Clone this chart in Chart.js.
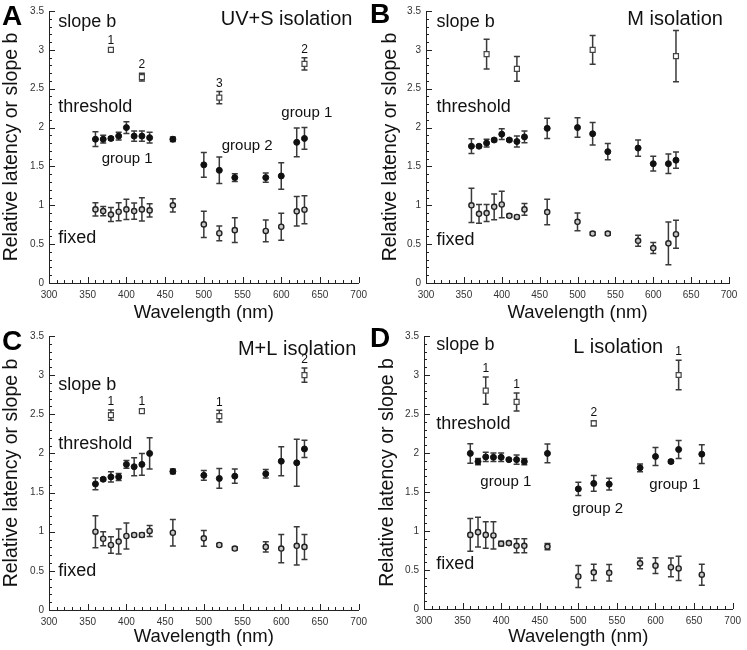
<!DOCTYPE html>
<html>
<head>
<meta charset="utf-8">
<script src="https://cdn.jsdelivr.net/npm/chart.js@4"></script>
<style>
  body { margin: 0; background: #fff; }
  #wrap { position: relative; width: 747px; height: 650px; }
  canvas { position: absolute; }
</style>
</head>
<body>
<div id="wrap">
  <canvas id="chartA" width="373" height="325" style="left:0;top:0"></canvas>
  <canvas id="chartB" width="379" height="325" style="left:368px;top:0"></canvas>
  <canvas id="chartC" width="373" height="325" style="left:0;top:325px"></canvas>
  <canvas id="chartD" width="379" height="325" style="left:368px;top:325px"></canvas>
</div>
<script>
// wavelengths (nm)
const wavelengths = [360, 370, 380, 390, 400, 410, 420, 430, 460, 500, 520, 540, 580, 600, 620, 630];
const wavelengthsD = [360, 370, 380, 390, 400, 410, 420, 430, 460, 500, 520, 540, 580, 600, 620, 630, 660];
const slopeWavelengths = [380, 420, 520, 630];

// A: UV+S isolation
const aSlope = [3.0, 2.65, 2.385, 2.82];
const aSlopeErr = [0.02, 0.05, 0.08, 0.08];
const aSlopeNotes = ["1", "2", "3", "2"];
const aThreshold = [1.85, 1.85, 1.86, 1.89, 2.0, 1.89, 1.89, 1.87, 1.85, 1.52, 1.45, 1.356, 1.356, 1.377, 1.81, 1.86];
const aThresholdErr = [0.095, 0.05, 0.02, 0.05, 0.075, 0.065, 0.065, 0.07, 0.03, 0.16, 0.17, 0.05, 0.06, 0.17, 0.185, 0.14];
const aFixed = [0.947, 0.925, 0.88, 0.917, 0.947, 0.925, 0.947, 0.934, 1.0, 0.754, 0.64, 0.68, 0.67, 0.724, 0.922, 0.943];
const aFixedErr = [0.085, 0.06, 0.09, 0.115, 0.13, 0.105, 0.15, 0.085, 0.085, 0.17, 0.095, 0.16, 0.14, 0.175, 0.19, 0.18];

// B: M isolation
const bSlope = [2.945, 2.755, 3.0, 2.92];
const bSlopeErr = [0.19, 0.16, 0.185, 0.33];
const bSlopeNotes = [];
const bThreshold = [1.76, 1.76, 1.80, 1.84, 1.915, 1.84, 1.82, 1.88, 1.99, 2.0, 1.92, 1.69, 1.736, 1.535, 1.535, 1.58];
const bThresholdErr = [0.095, 0.015, 0.05, 0.02, 0.07, 0.015, 0.07, 0.075, 0.13, 0.125, 0.145, 0.105, 0.105, 0.095, 0.125, 0.105];
const bFixed = [1.0, 0.89, 0.90, 0.98, 1.01, 0.865, 0.85, 0.947, 0.913, 0.787, 0.636, 0.636, 0.543, 0.45, 0.51, 0.628];
const bFixedErr = [0.22, 0.12, 0.11, 0.165, 0.17, 0.02, 0.02, 0.075, 0.165, 0.115, 0.02, 0.02, 0.07, 0.07, 0.275, 0.18];

// C: M+L isolation
const cSlope = [2.49, 2.54, 2.477, 3.0];
const cSlopeErr = [0.065, 0.02, 0.075, 0.09];
const cSlopeNotes = ["1", "1", "1", "2"];
const cThreshold = [1.61, 1.67, 1.70, 1.70, 1.86, 1.83, 1.86, 2.0, 1.77, 1.72, 1.68, 1.71, 1.74, 1.90, 1.88, 2.057];
const cThresholdErr = [0.075, 0.02, 0.065, 0.045, 0.05, 0.115, 0.14, 0.2, 0.03, 0.063, 0.126, 0.09, 0.055, 0.185, 0.30, 0.11];
const cFixed = [1.0, 0.91, 0.83, 0.874, 0.945, 0.958, 0.958, 1.01, 0.987, 0.915, 0.83, 0.785, 0.806, 0.785, 0.82, 0.806];
const cFixedErr = [0.205, 0.09, 0.105, 0.16, 0.165, 0.02, 0.025, 0.07, 0.17, 0.1, 0.02, 0.02, 0.065, 0.18, 0.245, 0.16];

// D: L isolation
const dSlope = [2.80, 2.655, 2.38, 3.0];
const dSlopeErr = [0.175, 0.115, 0.03, 0.19];
const dSlopeNotes = ["1", "1", "2", "1"];
const dThreshold = [1.995, 1.89, 1.95, 1.945, 1.945, 1.915, 1.915, 1.89, 1.995, 1.54, 1.61, 1.60, 1.81, 1.955, 1.89, 2.045, 1.985];
const dThresholdErr = [0.125, 0.04, 0.06, 0.055, 0.055, 0.015, 0.06, 0.04, 0.12, 0.085, 0.1, 0.075, 0.05, 0.115, 0.02, 0.115, 0.12];
const dFixed = [0.95, 0.985, 0.95, 0.943, 0.837, 0.845, 0.81, 0.81, 0.80, 0.417, 0.47, 0.464, 0.585, 0.556, 0.535, 0.52, 0.44];
const dFixedErr = [0.21, 0.19, 0.17, 0.175, 0.03, 0.02, 0.09, 0.09, 0.04, 0.14, 0.105, 0.105, 0.07, 0.1, 0.12, 0.155, 0.135];

const FONT = "'Liberation Sans', Arial, sans-serif";

const panels = [
  {
    canvas: "chartA", letter: "A", letterPos: [2, 25],
    area: { left: 49, right: 360, top: 6, bottom: 283 }, yTitlePad: 0, xTitlePad: 1,
    wl: wavelengths, slope: aSlope, slopeErr: aSlopeErr, notes: aSlopeNotes,
    thr: aThreshold, thrErr: aThresholdErr, fix: aFixed, fixErr: aFixedErr,
    labels: [
      { t: "slope b", x: 312, y: 3.36, align: "left", size: 18 },
      { t: "UV+S isolation", x: 692, y: 3.39, align: "right", size: 20 },
      { t: "threshold", x: 312, y: 2.26, align: "left", size: 18 },
      { t: "fixed", x: 312, y: 0.58, align: "left", size: 18 },
      { t: "group 1", x: 401, y: 1.6, align: "center", size: 15 },
      { t: "group 2", x: 556, y: 1.76, align: "center", size: 15 },
      { t: "group 1", x: 633, y: 2.19, align: "center", size: 15 }
    ]
  },
  {
    canvas: "chartB", letter: "B", letterPos: [2, 23],
    area: { left: 58, right: 361, top: 6, bottom: 283 }, yTitlePad: 11, xTitlePad: 1,
    wl: wavelengths, slope: bSlope, slopeErr: bSlopeErr, notes: bSlopeNotes,
    thr: bThreshold, thrErr: bThresholdErr, fix: bFixed, fixErr: bFixedErr,
    labels: [
      { t: "slope b", x: 314, y: 3.36, align: "left", size: 18 },
      { t: "M isolation", x: 692, y: 3.39, align: "right", size: 20 },
      { t: "threshold", x: 314, y: 2.26, align: "left", size: 18 },
      { t: "fixed", x: 314, y: 0.555, align: "left", size: 18 }
    ]
  },
  {
    canvas: "chartC", letter: "C", letterPos: [2, 25],
    area: { left: 49, right: 360, top: 7, bottom: 285 }, yTitlePad: 0, xTitlePad: 2,
    wl: wavelengths, slope: cSlope, slopeErr: cSlopeErr, notes: cSlopeNotes,
    thr: cThreshold, thrErr: cThresholdErr, fix: cFixed, fixErr: cFixedErr,
    labels: [
      { t: "M+L isolation", x: 697, y: 3.33, align: "right", size: 20 },
      { t: "slope b", x: 312, y: 2.87, align: "left", size: 18 },
      { t: "threshold", x: 312, y: 2.12, align: "left", size: 18 },
      { t: "fixed", x: 312, y: 0.5, align: "left", size: 18 }
    ]
  },
  {
    canvas: "chartD", letter: "D", letterPos: [2, 22],
    area: { left: 56, right: 369, top: 7, bottom: 284 }, yTitlePad: 8, xTitlePad: 2,
    wl: wavelengthsD, slope: dSlope, slopeErr: dSlopeErr, notes: dSlopeNotes,
    thr: dThreshold, thrErr: dThresholdErr, fix: dFixed, fixErr: dFixedErr,
    labels: [
      { t: "slope b", x: 316, y: 3.38, align: "left", size: 18 },
      { t: "L isolation", x: 610, y: 3.35, align: "right", size: 20 },
      { t: "threshold", x: 316, y: 2.37, align: "left", size: 18 },
      { t: "fixed", x: 316, y: 0.58, align: "left", size: 18 },
      { t: "group 1", x: 406, y: 1.63, align: "center", size: 15 },
      { t: "group 2", x: 525, y: 1.28, align: "center", size: 15 },
      { t: "group 1", x: 625, y: 1.59, align: "center", size: 15 }
    ]
  }
];

function points(xs, ys, errs) {
  return ys.map((v, i) => ({ x: xs[i], y: v, err: errs[i] }));
}

// error bars under the markers
const errorBars = {
  id: "errorBars",
  beforeDatasetsDraw(chart) {
    const { ctx, scales: { x, y } } = chart;
    ctx.save();
    ctx.strokeStyle = "#3a3a3a";
    ctx.lineWidth = 1.5;
    chart.data.datasets.forEach(ds => {
      ds.data.forEach(p => {
        const px = x.getPixelForValue(p.x);
        const top = y.getPixelForValue(p.y + p.err);
        const bot = y.getPixelForValue(p.y - p.err);
        ctx.beginPath();
        ctx.moveTo(px, top); ctx.lineTo(px, bot);
        ctx.moveTo(px - 3, top); ctx.lineTo(px + 3, top);
        ctx.moveTo(px - 3, bot); ctx.lineTo(px + 3, bot);
        ctx.stroke();
      });
    });
    ctx.restore();
  }
};

// inward tick marks, notes, text labels, panel letter
const decorations = {
  id: "decorations",
  afterDraw(chart, args, opts) {
    const { ctx, chartArea: a, scales: { x, y } } = chart;
    const panel = opts.panel;
    ctx.save();
    ctx.strokeStyle = "#222";
    ctx.lineWidth = 1;
    ctx.beginPath();
    for (let v = 300; v <= 700; v += 10) {
      const px = Math.round(x.getPixelForValue(v)) + 0.5;
      const len = v % 50 === 0 ? 6 : 3;
      ctx.moveTo(px, a.bottom); ctx.lineTo(px, a.bottom - len);
    }
    for (let i = 0; i <= 35; i++) {
      const py = Math.round(y.getPixelForValue(i / 10)) + 0.5;
      const len = i % 5 === 0 ? 6 : 3;
      ctx.moveTo(a.left, py); ctx.lineTo(a.left + len, py);
    }
    ctx.stroke();

    ctx.fillStyle = "#111";
    ctx.textBaseline = "middle";
    panel.labels.forEach(l => {
      ctx.font = l.size + "px " + FONT;
      ctx.textAlign = l.align;
      ctx.fillText(l.t, x.getPixelForValue(l.x), y.getPixelForValue(l.y));
    });

    ctx.font = "12px " + FONT;
    ctx.textAlign = "center";
    ctx.textBaseline = "bottom";
    panel.notes.forEach((n, i) => {
      const px = x.getPixelForValue(slopeWavelengths[i]);
      const py = y.getPixelForValue(panel.slope[i] + panel.slopeErr[i]);
      ctx.fillText(n, px, py - 2);
    });

    ctx.font = "bold 28px " + FONT;
    ctx.textAlign = "left";
    ctx.textBaseline = "alphabetic";
    ctx.fillStyle = "#000";
    ctx.fillText(panel.letter, panel.letterPos[0], panel.letterPos[1]);
    ctx.restore();
  }
};

panels.forEach(panel => {
  const el = document.getElementById(panel.canvas);
  const W = el.width, H = el.height, a = panel.area;
  new Chart(el.getContext("2d"), {
    type: "scatter",
    data: {
      datasets: [
        {
          label: "slope b",
          data: points(slopeWavelengths, panel.slope, panel.slopeErr),
          pointStyle: "rect", pointRadius: 3.5,
          backgroundColor: "#fff", borderColor: "#444", borderWidth: 1.2
        },
        {
          label: "threshold",
          data: points(panel.wl, panel.thr, panel.thrErr),
          pointStyle: "circle", pointRadius: 3,
          backgroundColor: "#111", borderColor: "#111", borderWidth: 1
        },
        {
          label: "fixed",
          data: points(panel.wl, panel.fix, panel.fixErr),
          pointStyle: "circle", pointRadius: 2.6,
          backgroundColor: "#c8c8c8", borderColor: "#222", borderWidth: 1.4
        }
      ]
    },
    options: {
      responsive: false,
      animation: false,
      layout: { padding: { left: 0, top: a.top, right: W - a.right, bottom: 0 } },
      plugins: {
        legend: { display: false },
        tooltip: { enabled: false },
        decorations: { panel: panel }
      },
      scales: {
        x: {
          type: "linear", min: 300, max: 700,
          ticks: { stepSize: 50, color: "#333", font: { family: FONT, size: 10 }, padding: 6, maxRotation: 0 },
          grid: { display: false, drawTicks: false },
          border: { display: true, color: "#222", width: 1 },
          title: { display: true, text: "Wavelength (nm)", color: "#111",
                   font: { family: FONT, size: 18.5 }, padding: { top: 0, bottom: panel.xTitlePad } },
          afterFit: s => { s.height = H - a.bottom; }
        },
        y: {
          min: 0, max: 3.5,
          ticks: { stepSize: 0.5, color: "#333", font: { family: FONT, size: 10 }, padding: 5,
                   callback: v => String(v) },
          grid: { display: false, drawTicks: false },
          border: { display: true, color: "#222", width: 1 },
          title: { display: true, text: "Relative latency or slope b", color: "#111",
                   font: { family: FONT, size: 19.5 }, padding: { top: panel.yTitlePad, bottom: 0 } },
          afterFit: s => { s.width = a.left; }
        }
      }
    },
    plugins: [errorBars, decorations]
  });
});
</script>
</body>
</html>
